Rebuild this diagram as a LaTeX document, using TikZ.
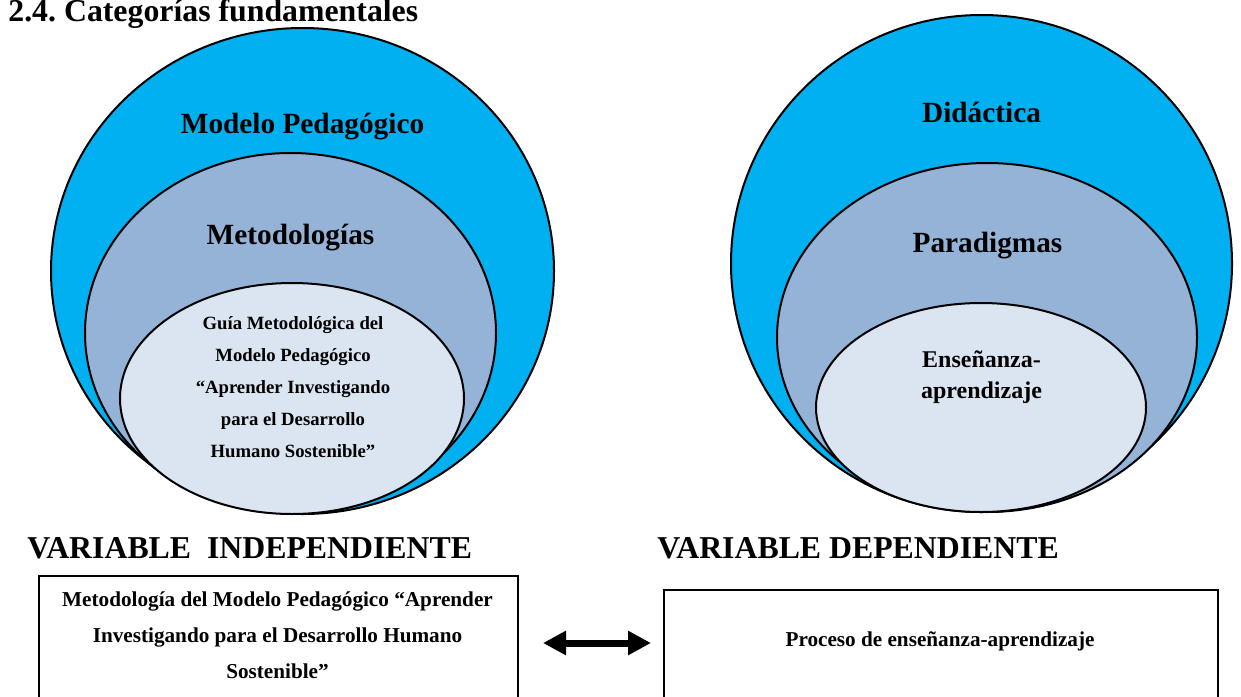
\documentclass[tikz,border=0pt]{standalone}
\usepackage{fontspec}
\setmainfont{Liberation Serif}
\usetikzlibrary{arrows.meta,shapes.geometric}
\definecolor{skyfill}{HTML}{00B0F0}
\definecolor{midfill}{HTML}{95B3D7}
\definecolor{palefill}{HTML}{DBE5F1}
\frenchspacing

\begin{document}
\begin{tikzpicture}[x=0.5pt,y=-0.5pt,
  ring/.style={draw=black, line width=1pt, shape=ellipse, inner sep=0pt, outer sep=0pt},
  biglbl/.style={anchor=base, inner sep=0pt, font=\bfseries\fontsize{14.65}{17}\selectfont},
  guialbl/.style={anchor=base, inner sep=0pt, font=\bfseries\fontsize{9.35}{11}\selectfont},
  enslbl/.style={anchor=base, inner sep=0pt, font=\bfseries\fontsize{12}{14}\selectfont},
  headlbl/.style={anchor=base west, inner sep=0pt, font=\bfseries\fontsize{15.9}{19}\selectfont},
  boxlbl/.style={anchor=base, inner sep=0pt, font=\bfseries\fontsize{10.6}{13}\selectfont},
  varbox/.style={draw=black, line width=0.8pt, anchor=north west, inner sep=0pt, minimum height=75pt},
  twoway/.style={line width=3.5pt, {Triangle[length=11.5pt,width=11.5pt]}-{Triangle[length=11.5pt,width=11.5pt]}}
]
\clip (0,0) rectangle (1241,696);
\fill[white] (0,0) rectangle (1241,696);

% heading
\node[headlbl] (title) at (8,21) {2.4. Categorías fundamentales};

% left set of nested ellipses
\node[ring, fill=skyfill, minimum width=251.5pt, minimum height=243pt] (lOuter) at (302.5,271) {};
\node[ring, fill=midfill, minimum width=205.5pt, minimum height=180pt] (lMid) at (290.5,333) {};
\node[ring, fill=palefill, minimum width=172pt, minimum height=115.5pt] (lInner) at (292,398.5) {};

\node[biglbl] (tModelo) at (302.5,133) {Modelo Pedagógico};
\node[biglbl] (tMetod) at (290.5,244) {Metodologías};
\node[guialbl] (g1) at (293,329) {Guía Metodológica del};
\node[guialbl] (g2) at (293,361) {Modelo Pedagógico};
\node[guialbl] (g3) at (293,393) {“Aprender Investigando};
\node[guialbl] (g4) at (293,425) {para el Desarrollo};
\node[guialbl] (g5) at (293,457) {Humano Sostenible”};

% right set of nested ellipses
\node[ring, fill=skyfill, minimum width=250.5pt, minimum height=248.5pt] (rOuter) at (981.5,263.5) {};
\node[ring, fill=midfill, minimum width=210pt, minimum height=174.5pt] (rMid) at (987,337.5) {};
\node[ring, fill=palefill, minimum width=165pt, minimum height=104.5pt] (rInner) at (981,407.5) {};

\node[biglbl] (tDid) at (981.5,122) {Didáctica};
\node[biglbl] (tPar) at (987.5,252) {Paradigmas};
\node[enslbl] (e1) at (981.5,367) {Enseñanza-};
\node[enslbl] (e2) at (981.5,398) {aprendizaje};

% variable headings
\node[headlbl] (vInd) at (27,558) {VARIABLE~~INDEPENDIENTE};
\node[headlbl] (vDep) at (657,558) {VARIABLE DEPENDIENTE};

% variable boxes
\node[varbox, minimum width=239.5pt] (boxL) at (38,575) {};
\node[varbox, minimum width=277pt] (boxR) at (663,589) {};

\node[boxlbl] (b1) at (277.5,606) {Metodología del Modelo Pedagógico “Aprender};
\node[boxlbl] (b2) at (277.5,642) {Investigando para el Desarrollo Humano};
\node[boxlbl] (b3) at (277.5,678) {Sostenible”};
\node[boxlbl] (b4) at (940,646) {Proceso de enseñanza-aprendizaje};

% two-way relation
\coordinate (aL) at (543,643);
\coordinate (aR) at (651,643);
\draw[twoway] (aL) -- (aR);
\end{tikzpicture}
\end{document}
